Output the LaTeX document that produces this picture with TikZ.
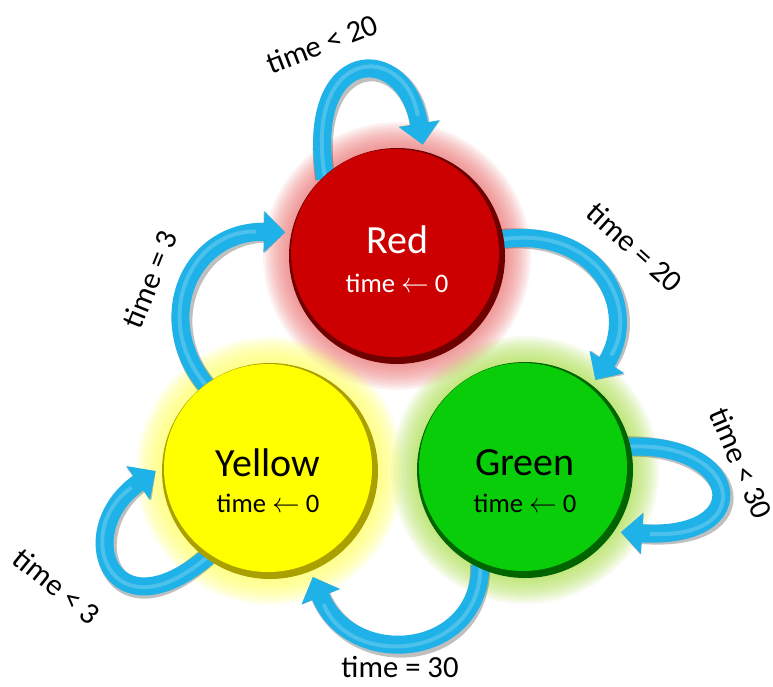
\documentclass[tikz,border=0pt]{standalone}
\usepackage{fontspec}
\setmainfont{Carlito}
\usetikzlibrary{arrows.meta}
\definecolor{arrblue}{RGB}{30,178,232}
\definecolor{redfill}{RGB}{204,0,0}
\definecolor{redrim}{RGB}{110,0,0}
\definecolor{redglow}{RGB}{240,110,110}
\definecolor{yelfill}{RGB}{255,255,0}
\definecolor{yelrim}{RGB}{170,160,0}
\definecolor{yelglow}{RGB}{255,255,110}
\definecolor{grnfill}{RGB}{10,205,10}
\definecolor{grnrim}{RGB}{0,100,0}
\definecolor{grnglow}{RGB}{170,225,70}
\tikzset{
  statenode/.style={circle, minimum size=171pt, inner sep=0pt},
  titletext/.style={font=\fontsize{30pt}{34pt}\selectfont, inner sep=0pt},
  subtext/.style={font=\fontsize{20pt}{24pt}\selectfont, inner sep=0pt},
  edgelabel/.style={font=\fontsize{23pt}{26pt}\selectfont, inner sep=0pt},
  bandshadow/.style={draw=black, draw opacity=0.25, fill opacity=0.25, line width=15pt,
     -{Triangle[length=16pt,width=30pt]}, shorten <=-8pt},
  band/.style={draw=arrblue, line width=13.5pt, -{Triangle[length=16pt,width=30pt]}, shorten <=-8pt},
  bandlight/.style={draw=white, draw opacity=0.2, line width=3pt, shorten >=22pt, shorten <=-6pt},
}
\begin{document}
\begin{tikzpicture}[x=0.75pt,y=-0.75pt]
\useasboundingbox (0,0) rectangle (773,686);
\fill[white] (0,0) rectangle (773,686);

% state positions (invisible nodes used as connector ends)
\node[statenode] (red) at (397,256) {};
\node[statenode] (green) at (525,470) {};
\node[statenode] (yellow) at (270,471) {};

% glows
\foreach \rr in {134,132,...,109} {
  \fill[redglow, fill opacity=0.08] (397,256) circle (\rr);
  \fill[grnglow, fill opacity=0.08] (525,470) circle (\rr);
  \fill[yelglow, fill opacity=0.1] (270,471) circle (\rr);
}

% connectors: shadows
\begin{scope}[shift={(3,4)}]
\draw[bandshadow] (red.130) .. controls (303,45) and (405,40) .. (red.77);
\draw[bandshadow] (red.9) .. controls (600,225) and (640,310) .. (green.52);
\draw[bandshadow] (green.12) .. controls (740,440) and (760,540) .. (green.-33);
\draw[bandshadow] (green.-113) .. controls (480,660) and (350,670) .. (yellow.-68);
\draw[bandshadow] (yellow.-127) .. controls (110,640) and (70,530) .. (yellow.180);
\draw[bandshadow] (yellow.127) .. controls (150,320) and (190,230) .. (red.168);
\end{scope}

% connectors
\draw[band] (red.130) .. controls (303,45) and (405,40) .. (red.77);
\draw[band] (red.9) .. controls (600,225) and (640,310) .. (green.52);
\draw[band] (green.12) .. controls (740,440) and (760,540) .. (green.-33);
\draw[band] (green.-113) .. controls (480,660) and (350,670) .. (yellow.-68);
\draw[band] (yellow.-127) .. controls (110,640) and (70,530) .. (yellow.180);
\draw[band] (yellow.127) .. controls (150,320) and (190,230) .. (red.168);

\draw[bandlight] (red.130) .. controls (303,45) and (405,40) .. (red.77);
\draw[bandlight] (red.9) .. controls (600,225) and (640,310) .. (green.52);
\draw[bandlight] (green.12) .. controls (740,440) and (760,540) .. (green.-33);
\draw[bandlight] (green.-113) .. controls (480,660) and (350,670) .. (yellow.-68);
\draw[bandlight] (yellow.-127) .. controls (110,640) and (70,530) .. (yellow.180);
\draw[bandlight] (yellow.127) .. controls (150,320) and (190,230) .. (red.168);

% balls
\fill[redrim] (397,256) circle (108);
\fill[redfill] (395,253) circle (104);
\fill[grnrim] (525,470) circle (108);
\fill[grnfill] (523,467) circle (104);
\fill[yelrim] (270,471) circle (108);
\fill[yelfill] (268,468) circle (104);

% state texts
\node[titletext, text=white] (redt) at (397,240) {Red};
\node[subtext, text=white] (reds) at (397,283) {time $\leftarrow$ 0};
\node[titletext] (yelt) at (268,463) {Yellow};
\node[subtext] (yels) at (268,503) {time $\leftarrow$ 0};
\node[titletext] (grnt) at (525,463) {Green};
\node[subtext] (grns) at (525,503) {time $\leftarrow$ 0};

% edge labels
\node[edgelabel, rotate=21] (l1) at (322,44) {time < 20};
\node[edgelabel, rotate=-42] (l2) at (635,247) {time = 20};
\node[edgelabel, rotate=-67] (l3) at (741,463) {time < 30};
\node[edgelabel] (l4) at (400,667) {time = 30};
\node[edgelabel, rotate=-39] (l5) at (57,586) {time < 3};
\node[edgelabel, rotate=68] (l6) at (150,279) {time = 3};
\end{tikzpicture}
\end{document}
